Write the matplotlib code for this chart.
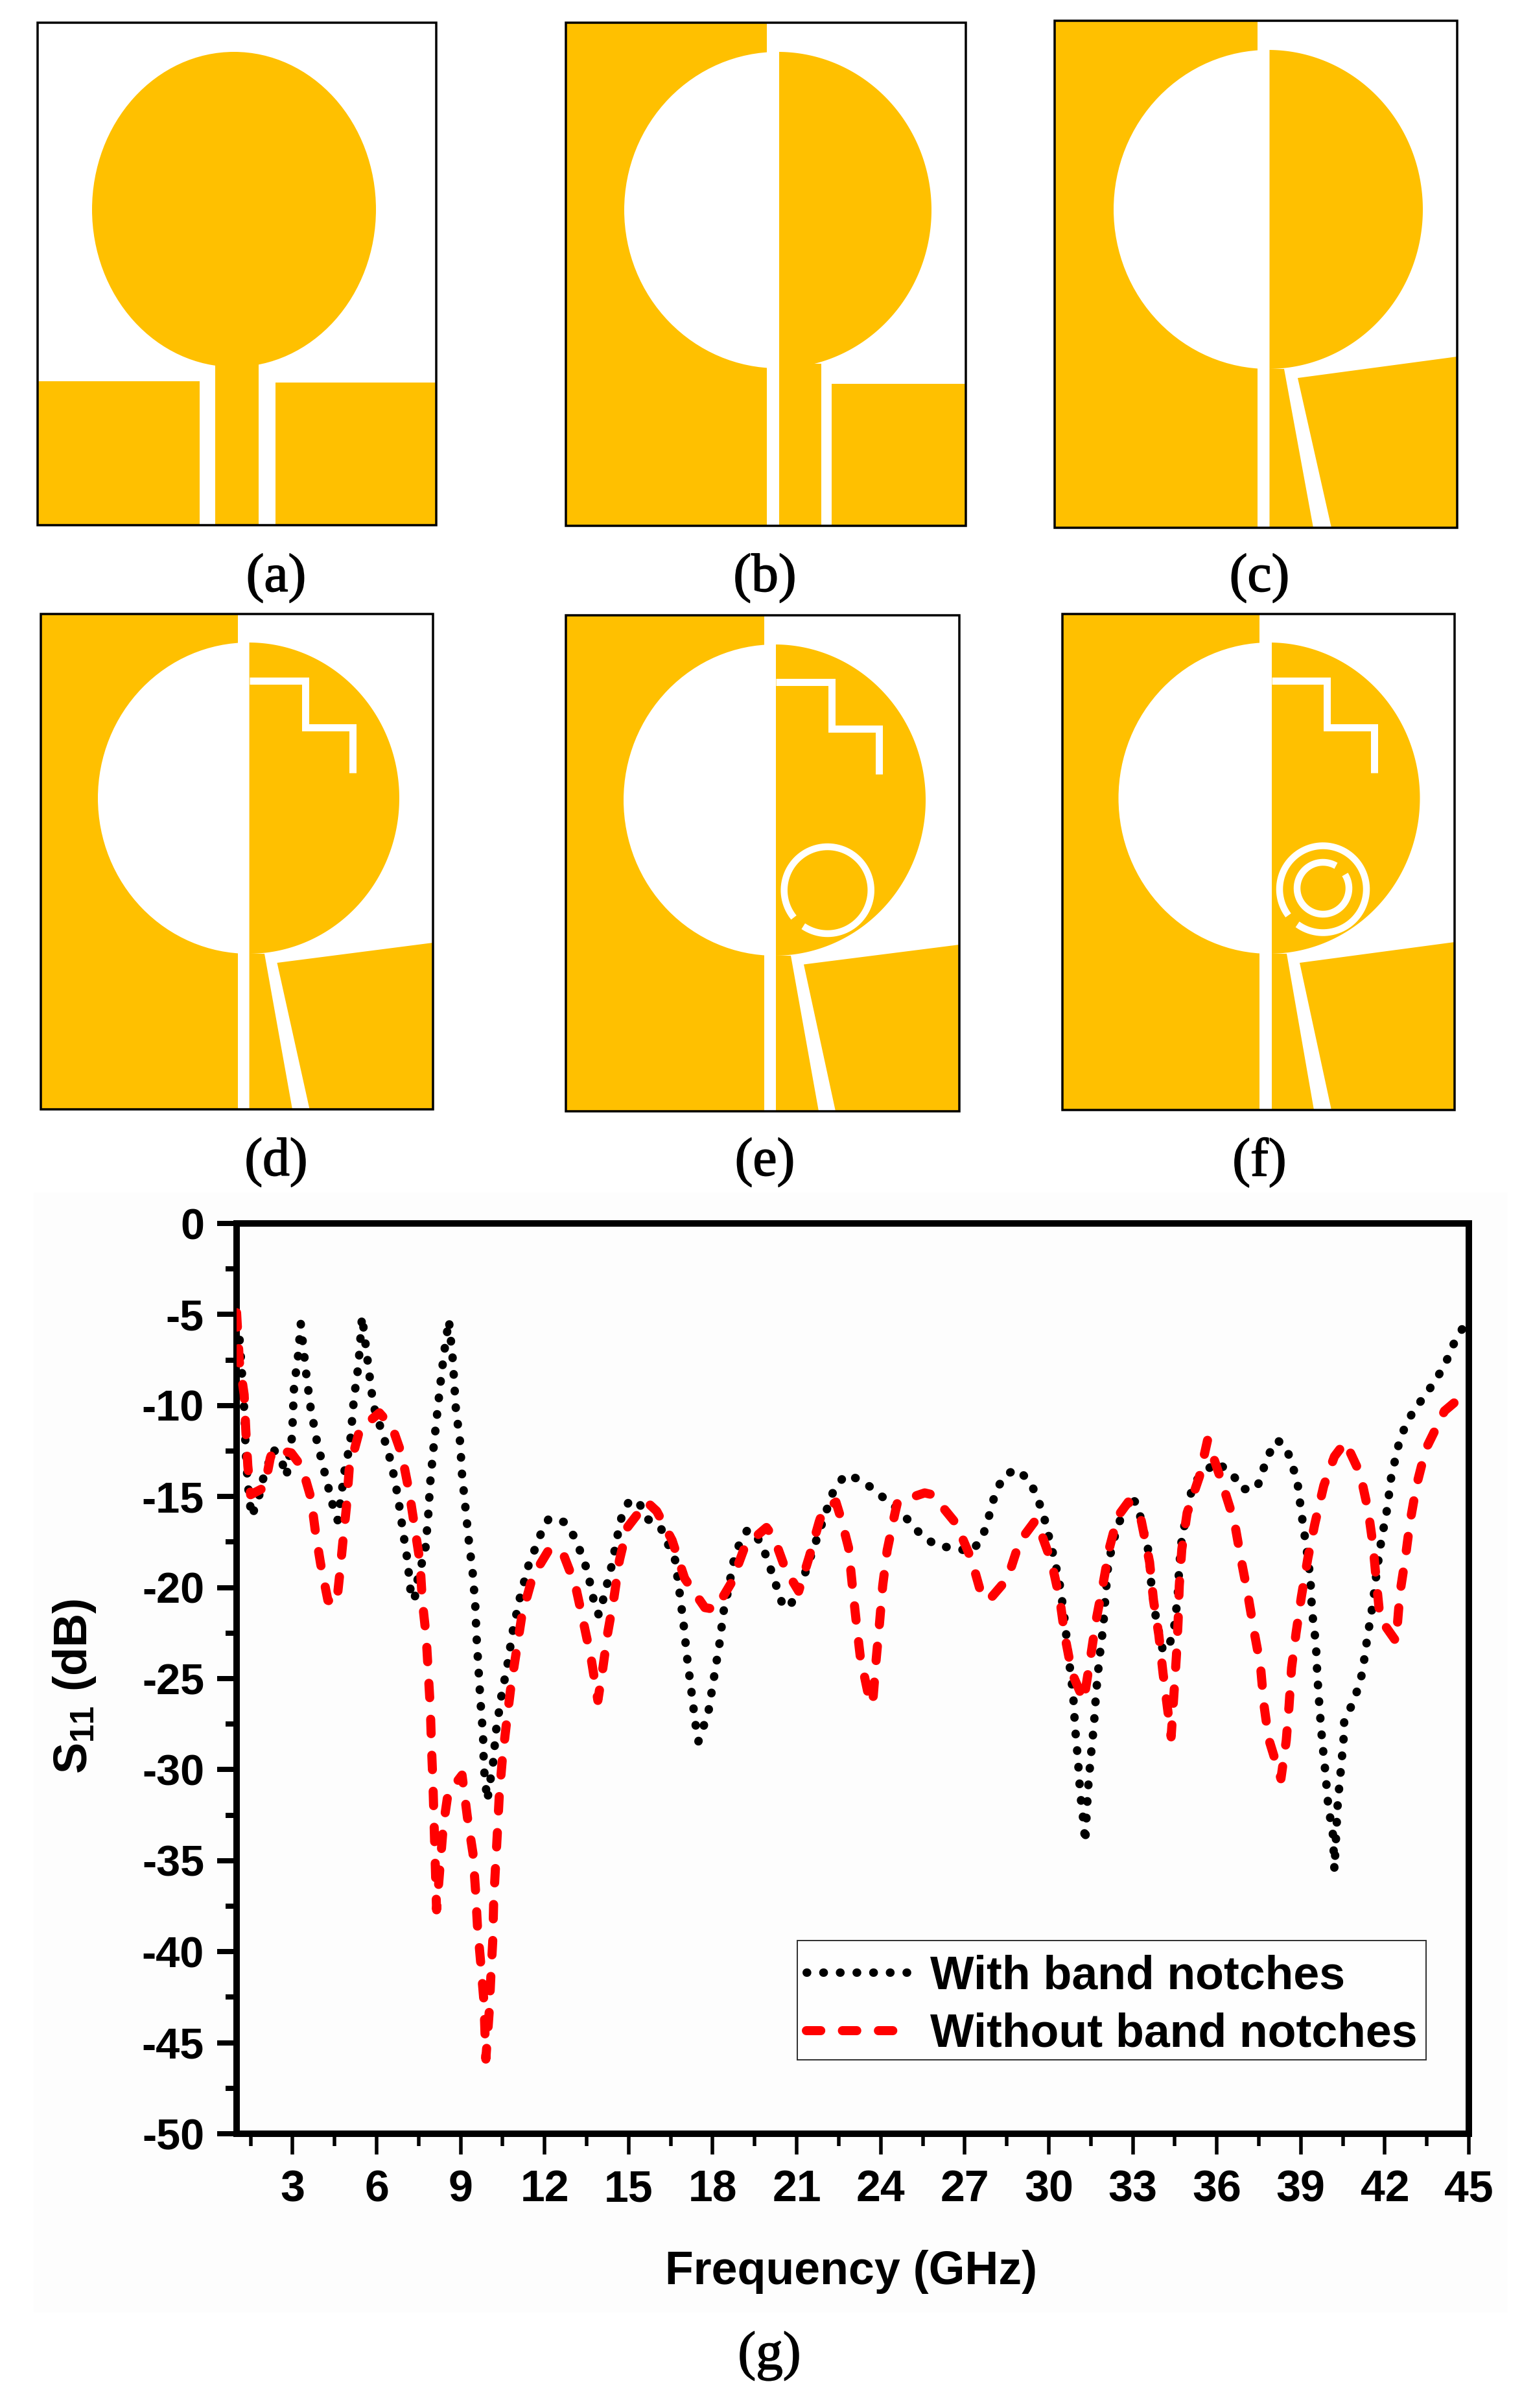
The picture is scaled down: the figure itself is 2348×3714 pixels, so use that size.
import numpy as np
import matplotlib
matplotlib.use("Agg")
import matplotlib.pyplot as plt
import matplotlib.patheffects as pe
from matplotlib.patches import Ellipse, Polygon, Rectangle
from matplotlib.ticker import FixedLocator

plt.rcParams['font.family'] = ['Liberation Sans', 'DejaVu Sans']
plt.rcParams['mathtext.fontset'] = 'custom'
plt.rcParams['mathtext.bf'] = 'Liberation Sans:bold'
plt.rcParams['lines.scale_dashes'] = False

# S11 with band notches
freq_with = [1.0, 1.09, 1.18, 1.29, 1.32, 1.4, 1.53, 1.77, 1.91, 2.31, 2.58, 2.78, 2.98, 3.05, 3.2, 3.29, 3.49, 3.64, 3.86, 4.13,
             4.42, 4.61, 4.74, 4.89, 5.04, 5.19, 5.35, 5.48, 5.7, 5.85, 5.97, 6.19, 6.53, 6.76, 6.93, 7.1, 7.22, 7.35, 7.44, 7.74,
             7.84, 7.91, 8.02, 8.14, 8.27, 8.4, 8.58, 8.72, 8.83, 8.98, 9.05, 9.17, 9.29, 9.43, 9.52, 9.57, 9.64, 9.71, 9.8, 9.83,
             9.95, 10.16, 10.27, 10.45, 10.67, 10.86, 11.11, 11.42, 11.85, 12.15, 12.7, 13.1, 13.52, 13.78, 13.93, 14.1, 14.4, 14.62, 14.75, 15.03,
             15.36, 15.64, 16.14, 16.66, 16.82, 16.96, 17.09, 17.24, 17.38, 17.49, 17.68, 17.86, 18.05, 18.24, 18.39, 18.52, 18.74, 18.93, 19.25, 19.73,
             20.13, 20.53, 20.8, 21.3, 21.7, 22.1, 22.31, 22.73, 23.33, 23.88, 24.46, 25.05, 25.49, 26.08, 26.66, 27.19, 27.59, 27.79, 28.11, 28.44,
             28.88, 29.34, 29.6, 29.81, 30.1, 30.37, 30.54, 30.73, 30.87, 30.94, 31.04, 31.12, 31.25, 31.3, 31.4, 31.5, 31.61, 31.69, 31.8, 31.94,
             32.03, 32.13, 32.42, 32.88, 33.16, 33.56, 33.66, 33.83, 34.08, 34.27, 34.46, 34.6, 34.66, 34.77, 34.94, 35.04, 35.13, 35.52, 35.96, 36.53,
             36.91, 37.43, 37.62, 37.81, 38.16, 38.48, 38.87, 39.02, 39.19, 39.34, 39.4, 39.54, 39.59, 39.67, 39.76, 39.88, 39.98, 40.15, 40.2, 40.32,
             40.43, 40.53, 40.55, 40.84, 41.05, 41.2, 41.37, 41.56, 41.7, 41.87, 42.08, 42.23, 42.5, 42.71, 43.02, 43.46, 43.86, 44.19, 44.43, 44.76, 44.9]
s11_with = [-5.5, -6.0, -7.95, -10.7, -12.4, -14.3, -16.1, -15.2, -14.2, -12.4, -12.9, -13.9, -11.7, -9.0, -7.2, -5.5, -8.3, -10.1, -11.9, -13.6,
            -15.4, -16.3, -14.9, -13.2, -12.3, -9.6, -7.8, -5.1, -7.8, -9.6, -10.5, -11.4, -13.2, -15.0, -16.8, -18.5, -20.3, -20.7, -19.7, -17.9,
            -16.1, -14.3, -12.5, -10.75, -8.9, -7.2, -5.3, -7.5, -10.2, -12.0, -13.8, -15.6, -17.4, -19.2, -20.9, -22.75, -24.5, -26.3, -28.1, -29.9,
            -31.7, -29.6, -27.8, -26.0, -24.25, -22.4, -20.6, -18.8, -17.1, -16.2, -16.4, -17.3, -19.05, -20.9, -21.5, -20.6, -18.75, -17.0, -16.1, -15.2,
            -15.3, -16.2, -16.7, -18.5, -20.3, -22.0, -23.9, -25.7, -27.45, -28.45, -27.6, -26.7, -24.9, -23.1, -21.3, -20.4, -18.6, -17.7, -16.8, -17.5,
            -19.25, -21.1, -20.9, -19.2, -17.4, -15.6, -14.7, -13.8, -14.1, -14.8, -15.5, -16.4, -17.2, -17.75, -17.8, -18.05, -17.4, -16.5, -14.7, -13.8,
            -13.5, -14.2, -15.1, -16.0, -17.8, -19.6, -21.4, -24.1, -25.85, -27.7, -29.4, -31.25, -33.0, -34.0, -31.1, -29.3, -27.6, -25.8, -24.0, -22.2,
            -20.4, -18.6, -16.8, -15.0, -15.4, -18.0, -19.8, -21.7, -23.5, -23.3, -22.4, -20.6, -18.8, -17.0, -16.1, -15.2, -14.3, -13.75, -13.1, -13.7,
            -14.6, -14.55, -13.7, -12.8, -11.9, -12.3, -14.1, -15.9, -17.7, -19.45, -21.3, -23.1, -24.85, -26.65, -28.4, -30.2, -32.0, -33.6, -35.5, -31.8,
            -30.0, -28.25, -27.3, -26.4, -25.5, -24.65, -22.8, -21.0, -19.25, -17.45, -15.7, -13.9, -12.1, -11.2, -10.3, -9.4, -8.5, -7.6, -6.7, -5.8, -5.5]

# S11 without band notches
freq_without = [1.0, 1.1, 1.27, 1.33, 1.4, 1.5, 2.0, 2.2, 2.31, 2.95, 3.34, 3.66, 3.82, 4.0, 4.26, 4.57, 4.68, 4.8, 4.92, 5.02,
                5.4, 6.1, 6.56, 6.9, 7.17, 7.36, 7.55, 7.63, 7.77, 7.85, 7.92, 7.96, 8.01, 8.14, 8.38, 8.55, 9.05, 9.24, 9.44, 9.53,
                9.6, 9.71, 9.83, 9.9, 10.02, 10.08, 10.15, 10.18, 10.25, 10.32, 10.38, 10.49, 10.64, 10.79, 11.0, 11.19, 11.57, 12.2, 12.7, 13.1,
                13.37, 13.66, 13.9, 14.08, 14.25, 14.47, 14.67, 14.95, 15.65, 16.0, 16.55, 17.0, 17.72, 18.1, 18.68, 19.16, 19.92, 20.2, 20.6, 21.07,
                21.45, 21.8, 21.93, 22.4, 22.6, 22.85, 22.98, 23.12, 23.27, 23.56, 23.71, 23.84, 23.96, 24.07, 24.23, 24.51, 24.6, 25.57, 25.85, 26.7,
                27.25, 27.58, 27.86, 28.53, 28.95, 29.53, 29.7, 30.1, 30.4, 30.58, 30.83, 31.25, 31.5, 31.69, 31.94, 32.17, 32.46, 32.84, 33.3, 33.6,
                33.74, 33.93, 34.08, 34.37, 34.47, 34.56, 34.62, 34.66, 34.75, 34.94, 35.38, 35.67, 36.2, 36.63, 36.86, 37.1, 37.33, 37.56, 37.68, 37.85,
                38.29, 38.48, 38.58, 38.67, 38.83, 39.02, 39.25, 39.5, 39.82, 40.2, 40.59, 41.12, 41.41, 41.58, 41.7, 41.83, 42.4, 42.54, 42.73, 42.9,
                43.13, 43.46, 44.13, 44.9]
s11_without = [-4.9, -7.6, -9.4, -11.4, -13.3, -14.9, -14.5, -12.9, -12.4, -12.6, -13.4, -15.1, -17.0, -18.7, -20.7, -20.9, -19.3, -17.4, -15.6, -13.5,
               -11.3, -10.4, -11.2, -12.7, -14.8, -16.7, -18.6, -20.7, -22.7, -24.8, -26.7, -28.8, -30.7, -37.7, -33.1, -31.3, -30.3, -32.6, -34.6, -36.6,
               -38.6, -40.5, -42.7, -45.9, -43.3, -41.3, -39.3, -37.2, -35.2, -33.2, -31.4, -29.4, -27.4, -25.5, -23.4, -21.5, -19.4, -17.8, -18.3, -19.9,
               -21.8, -23.9, -26.2, -24.4, -22.5, -20.6, -18.5, -16.7, -15.3, -15.8, -17.4, -19.5, -21.1, -21.2, -19.7, -17.7, -16.7, -17.3, -19.0, -20.2,
               -18.3, -16.4, -15.8, -15.3, -16.3, -17.8, -19.8, -21.8, -23.8, -25.9, -26.4, -23.9, -21.9, -19.9, -17.95, -15.9, -15.3, -14.8, -14.9, -16.5,
               -18.5, -20.3, -20.7, -19.5, -17.5, -16.3, -16.9, -18.6, -20.7, -22.7, -24.7, -26.2, -23.75, -21.8, -19.8, -17.8, -16.1, -15.3, -16.3, -18.6,
               -20.7, -22.6, -24.7, -28.2, -25.8, -23.7, -21.8, -19.9, -17.9, -15.9, -13.9, -11.9, -14.3, -16.4, -18.4, -20.3, -22.4, -24.3, -26.4, -28.3,
               -30.5, -28.4, -26.5, -24.4, -22.5, -20.5, -18.4, -16.5, -14.4, -12.8, -12.0, -13.75, -15.8, -17.7, -19.7, -21.7, -22.95, -20.3, -18.4, -16.4,
               -14.4, -12.4, -10.3, -9.3]

x_major = list(range(3, 46, 3))
x_minor = [1.5, 4.5, 7.5, 10.5, 13.5, 16.5, 19.5, 22.5, 25.5, 28.5, 31.5, 34.5, 37.5, 40.5, 43.5]
y_major = [0, -5, -10, -15, -20, -25, -30, -35, -40, -45, -50]
y_minor = [-2.5, -7.5, -12.5, -17.5, -22.5, -27.5, -32.5, -37.5, -42.5, -47.5]

GOLD = '#FFC000'
W, H = 2348, 3714
px = 0.72  # one image pixel in points at dpi 100

fig = plt.figure(figsize=(W / 100, H / 100), dpi=100, facecolor='white')

# pixel space layer for the antenna drawings and the captions
ov = fig.add_axes([0, 0, 1, 1], zorder=0)
ov.set_xlim(0, W)
ov.set_ylim(H, 0)
ov.axis('off')


def half_patch(left, cx, cy, rx, ry):
    t = np.linspace(-np.pi / 2, np.pi / 2, 400)
    xs = cx + rx * np.cos(t)
    ys = cy + ry * np.sin(t)
    keep = xs >= left
    pts = np.column_stack([xs[keep], ys[keep]])
    return np.vstack([[left, pts[0, 1]], pts, [left, pts[-1, 1]]])


def ring(cx, cy, r, gap_start, gap_end):
    # gap angles are counted anticlockwise on screen, 0 to the right
    t = np.radians(np.linspace(gap_end, gap_start + 360, 300))
    ov.plot(cx + r * np.cos(t), cy - r * np.sin(t), color='white', lw=10.5 * px, solid_capstyle='butt', zorder=4)


def step_slot(xa, ya, xb, yb, xc, yc):
    ov.plot([xa, xb, xb, xc, xc], [ya, ya, yb, yb, yc], color='white', lw=11 * px,
            solid_capstyle='butt', solid_joinstyle='miter', zorder=4)


def box(x0, y0, x1, y1):
    ov.add_patch(Rectangle((x0, y0), x1 - x0, y1 - y0, fc='none', ec='black', lw=3.5 * px, zorder=6))


def slotted_panel(x0, y0, x1, y1, cut, left, ell, feed, ground):
    cx, cy, rx, ry = ell
    ov.add_patch(Rectangle((x0, y0), cut - x0, y1 - y0, fc=GOLD, ec='none', zorder=1))
    ov.add_patch(Ellipse((cx, cy), 2 * rx, 2 * ry, fc='white', ec='none', zorder=2))
    ov.add_patch(Polygon(half_patch(left, cx, cy, rx, ry), fc=GOLD, ec='none', zorder=3))
    ov.add_patch(Polygon(feed, fc=GOLD, ec='none', zorder=3))
    ov.add_patch(Polygon(ground, fc=GOLD, ec='none', zorder=3))
    box(x0, y0, x1, y1)


# (a)
ov.add_patch(Ellipse((361, 323), 438, 486, fc=GOLD, ec='none', zorder=1))
ov.add_patch(Rectangle((332, 555), 67, 255, fc=GOLD, ec='none', zorder=1))
ov.add_patch(Rectangle((58, 588), 250, 222, fc=GOLD, ec='none', zorder=1))
ov.add_patch(Rectangle((424.5, 590), 249.5, 220, fc=GOLD, ec='none', zorder=1))
box(58, 35, 673, 810)

# (b)
slotted_panel(873, 35, 1490, 811, 1183, 1202, (1200, 324, 237, 244),
              [(1202, 561), (1267, 561), (1267, 811), (1202, 811)],
              [(1283, 592), (1490, 592), (1490, 811), (1283, 811)])
# (c)
slotted_panel(1627, 32, 2248, 814, 1940, 1958.5, (1956.5, 323, 238.5, 246),
              [(1958.5, 569), (1981, 569), (2026, 814), (1958.5, 814)],
              [(2002, 583), (2054, 814), (2248, 814), (2248, 550)])
# (d)
slotted_panel(63, 947, 668, 1711, 367, 384.6, (383.5, 1231, 232.5, 240),
              [(384.6, 1471), (408, 1471), (451, 1711), (384.6, 1711)],
              [(427.5, 1485), (477.6, 1711), (668, 1711), (668, 1454)])
step_slot(384.6, 1050, 471, 1121.6, 543.7, 1192)
# (e)
slotted_panel(873, 948.5, 1480, 1714, 1178.6, 1197, (1195, 1234, 233, 240),
              [(1197, 1474), (1220, 1474), (1263, 1714), (1197, 1714)],
              [(1240, 1487.5), (1289, 1714), (1480, 1714), (1480, 1457)])
step_slot(1197, 1052, 1283, 1124, 1356, 1194)
ring(1276.7, 1373, 67, 219, 236)
# (f)
slotted_panel(1639, 947, 2244, 1712, 1943, 1962, (1958, 1231, 232.5, 240),
              [(1962, 1471), (1985, 1471), (2027, 1712), (1962, 1712)],
              [(2005, 1485), (2054, 1712), (2244, 1712), (2244, 1453)])
step_slot(1962, 1050, 2047, 1122, 2120, 1192)
ring(2041, 1371.5, 67, 217, 234)
ring(2041, 1370, 40, 32, 60)

# very light backing of the pasted graph
ov.add_patch(Rectangle((52, 1839), 2274, 1728, fc='#FDFDFD', ec='none', zorder=0))

captions = ['(a)', '(b)', '(c)', '(d)', '(e)', '(f)', '(g)']
caption_x = [426, 1180, 1943, 426, 1180, 1943, 1187]
caption_y = [892, 892, 892, 1793, 1793, 1793, 3634]
for label, cap_x, cap_y in zip(captions, caption_x, caption_y):
    ov.text(cap_x, cap_y, label, family='Liberation Serif', size=60, ha='center', va='center', zorder=7,
            path_effects=[pe.withStroke(linewidth=1.2, foreground='black')])

# S11 graph
left, right, top, bottom = 365, 2266, 1887, 3291
ax = fig.add_axes([left / W, 1 - bottom / H, (right - left) / W, (bottom - top) / H], zorder=2)
ax.patch.set_alpha(0)
ax.plot(freq_with, s11_with, color='black', lw=13 * px, dash_capstyle='round',
        linestyle=(0, (0.5, 18.0)), label='With band notches', zorder=3)
ax.plot(freq_without, s11_without, color='#FF0000', lw=14 * px, dash_capstyle='round',
        linestyle=(0, (16, 24)), label='Without band notches', zorder=4)
ax.set_xlim(1, 45)
ax.set_ylim(-50, 0)

ax.xaxis.set_major_locator(FixedLocator(x_major))
ax.xaxis.set_minor_locator(FixedLocator(x_minor))
ax.yaxis.set_major_locator(FixedLocator(y_major))
ax.yaxis.set_minor_locator(FixedLocator(y_minor))
ax.tick_params(axis='x', which='major', length=32 * px, width=5.5 * px, pad=22 * px, labelsize=49)
ax.tick_params(axis='x', which='minor', length=19 * px, width=5.5 * px)
ax.tick_params(axis='y', which='major', length=30 * px, width=8 * px, pad=20 * px, labelsize=48)
ax.tick_params(axis='y', which='minor', length=17 * px, width=8 * px)
ax.set_yticklabels([str(v) for v in y_major])
for lab in ax.get_xticklabels() + ax.get_yticklabels():
    lab.set_fontweight('bold')
for side in ax.spines:
    ax.spines[side].set_linewidth(10 * px)

ov.text(1313, 3504, 'Frequency (GHz)', size=51.7, fontweight='bold', ha='center', va='center', zorder=7)
ov.text(115, 2601, r'$\mathbf{S_{11}}$ (dB)', size=52, fontweight='bold', rotation=90, ha='center', va='center', zorder=7)

# legend frame sits apart from its content, the text is lower in the box than legend padding allows
ov.add_patch(Rectangle((1230, 2993), 970, 184, fc='#FEFEFE', ec='#333333', lw=2 * px, zorder=1))
leg = ax.legend(loc='lower left', bbox_to_anchor=((1230 - left) / (right - left), (bottom - 3186) / (bottom - top)),
                prop={'family': 'Liberation Sans', 'weight': 'bold', 'size': 51.6},
                frameon=False, borderaxespad=0,
                handlelength=2.3, handletextpad=0.36, borderpad=0.2, labelspacing=0.3)

fig.savefig('out.png', dpi=100)
